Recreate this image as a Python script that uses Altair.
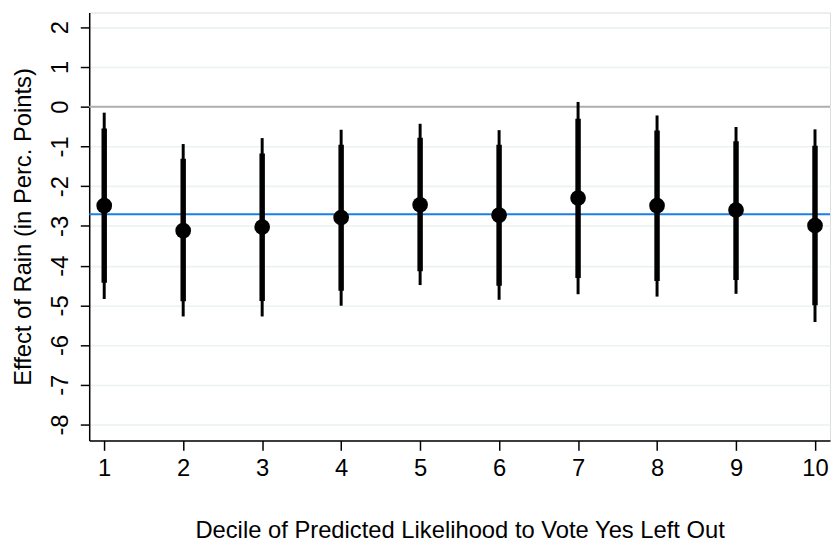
import altair as alt
import pandas as pd

deciles = [1, 2, 3, 4, 5, 6, 7, 8, 9, 10]
estimate = [-2.49, -3.12, -3.03, -2.79, -2.47, -2.73, -2.30, -2.49, -2.60, -2.99]
ci90_low = [-4.43, -4.90, -4.89, -4.63, -4.14, -4.51, -4.31, -4.39, -4.36, -5.00]
ci90_high = [-0.55, -1.31, -1.18, -0.96, -0.78, -0.96, -0.30, -0.60, -0.87, -0.98]
ci95_low = [-4.84, -5.28, -5.28, -5.01, -4.49, -4.86, -4.72, -4.78, -4.71, -5.42]
ci95_high = [-0.15, -0.94, -0.79, -0.58, -0.43, -0.59, 0.12, -0.22, -0.51, -0.57]
pooled_effect = -2.71
zero_line = 0
y_ticks = [-8, -7, -6, -5, -4, -3, -2, -1, 0, 1, 2]

df = pd.DataFrame({
    "decile": deciles,
    "est": estimate,
    "lo90": ci90_low,
    "hi90": ci90_high,
    "lo95": ci95_low,
    "hi95": ci95_high,
})

FONT = "Liberation Sans"
xs = alt.Scale(domain=[0.81, 10.19], nice=False, zero=False)
ys = alt.Scale(domain=[-8.4, 2.37], nice=False, zero=False)

x_axis = alt.Axis(
    values=deciles, title="Decile of Predicted Likelihood to Vote Yes Left Out",
    format="d",
    grid=False, domainColor="black", domainWidth=1.5, tickColor="black",
    tickWidth=1.5, tickSize=10, labelFontSize=24, labelFont=FONT,
    labelColor="black", labelPadding=6, titleFont=FONT, titleFontSize=24,
    titleFontWeight="normal", titleColor="black", titlePadding=39,
)
y_axis = alt.Axis(
    values=y_ticks, title="Effect of Rain (in Perc. Points)",
    labelExpr="replace(datum.label, '\u2212', '-')",
    grid=True, gridColor="#eaf2f3", gridWidth=1.6,
    domainColor="black", domainWidth=1.5, tickColor="black", tickWidth=1.5,
    tickSize=9, labelFontSize=24, labelFont=FONT, labelColor="black",
    labelAngle=-90, labelAlign="center", labelBaseline="bottom",
    labelPadding=8, titleFont=FONT, titleFontSize=24,
    titleFontWeight="normal", titleColor="black", titlePadding=13,
)

base = alt.Chart(df)

zero = alt.Chart(pd.DataFrame({"y": [zero_line]})).mark_rule(
    color="#b0b0b0", strokeWidth=2
).encode(y=alt.Y("y:Q", scale=ys, axis=y_axis))

pooled = alt.Chart(pd.DataFrame({"y": [pooled_effect]})).mark_rule(
    color="#1a7fe8", strokeWidth=2
).encode(y=alt.Y("y:Q", scale=ys))

thin = base.mark_rule(color="black", strokeWidth=3).encode(
    x=alt.X("decile:Q", scale=xs, axis=x_axis),
    y=alt.Y("lo95:Q", scale=ys),
    y2="hi95:Q",
)
thick = base.mark_rule(color="black", strokeWidth=5.5).encode(
    x=alt.X("decile:Q", scale=xs),
    y=alt.Y("lo90:Q", scale=ys),
    y2="hi90:Q",
)
pts = base.mark_circle(color="black", opacity=1, size=250).encode(
    x=alt.X("decile:Q", scale=xs),
    y=alt.Y("est:Q", scale=ys),
)

chart = alt.layer(zero, pooled, thin, thick, pts).properties(
    width=748, height=432,
    autosize=alt.AutoSizeParams(type="none"),
    padding={"left": 82, "top": 2, "right": 1, "bottom": 102},
).configure_view(stroke=None).configure(background="white")

chart.save("out.html", embed_options={"renderer": "svg", "actions": False})
